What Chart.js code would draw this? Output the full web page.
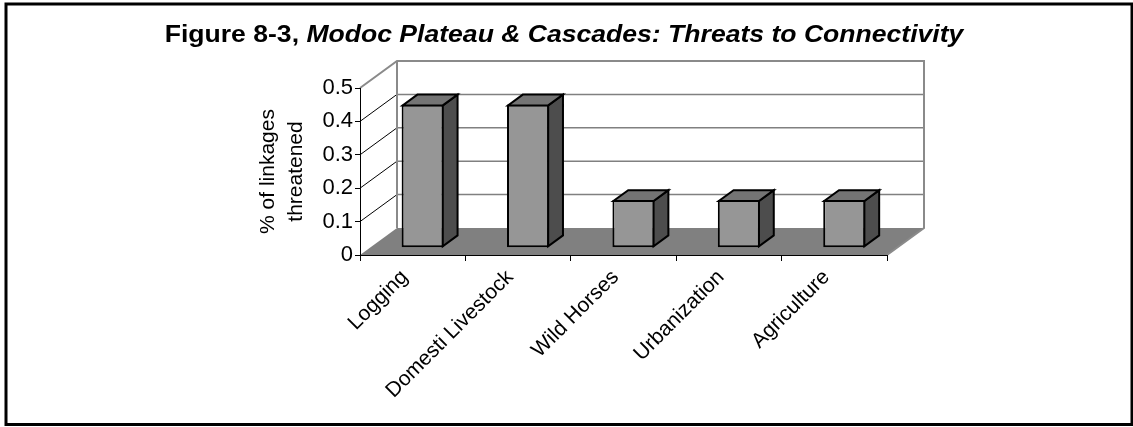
<!DOCTYPE html>
<html><head><meta charset="utf-8">
<script src="https://cdn.jsdelivr.net/npm/chart.js@4/dist/chart.umd.min.js"></script>
<style>html,body{margin:0;padding:0;background:#fff}</style>
</head><body>
<canvas id="c" width="1133" height="427"></canvas>
<script>
const categories = ['Logging', 'Domesti Livestock', 'Wild Horses', 'Urbanization', 'Agriculture'];
const threatShare = [0.429, 0.429, 0.143, 0.143, 0.143];
const yTicks = [0, 0.1, 0.2, 0.3, 0.4, 0.5];
const titlePlain = 'Figure 8-3, ';
const titleItalic = 'Modoc Plateau & Cascades: Threats to Connectivity';
const yTitle = ['% of linkages', 'threatened'];

const FONT = "'Liberation Sans', Arial, sans-serif";
const DEPTH = {x: 37, y: -27};
const BAR_FRONT = 0.27, BAR_DEPTH = 0.4;

function line(ctx, x1, y1, x2, y2) { ctx.beginPath(); ctx.moveTo(x1, y1); ctx.lineTo(x2, y2); ctx.stroke(); }

const excel3d = {
  id: 'excel3d',
  beforeDraw(chart) {
    const {ctx, chartArea: a, scales: {y}} = chart;
    ctx.save();
    ctx.fillStyle = '#fff'; ctx.fillRect(0, 0, chart.width, chart.height);
    // outer frame
    ctx.strokeStyle = '#000'; ctx.lineWidth = 3;
    ctx.strokeRect(6, 4, 1126, 420.5);
    // title (horizontally widened like the original)
    const TS = 23, SX = 1.155;
    ctx.fillStyle = '#000'; ctx.textBaseline = 'alphabetic';
    ctx.font = 'bold ' + TS + 'px ' + FONT;
    const w1 = ctx.measureText(titlePlain).width;
    ctx.font = 'italic bold ' + TS + 'px ' + FONT;
    const w2 = ctx.measureText(titleItalic).width;
    const total = (w1 + w2) * SX;
    ctx.save();
    ctx.translate(564 - total / 2, 42);
    ctx.scale(SX, 1);
    ctx.font = 'bold ' + TS + 'px ' + FONT; ctx.fillText(titlePlain, 0, 0);
    ctx.font = 'italic bold ' + TS + 'px ' + FONT; ctx.fillText(titleItalic, w1, 0);
    ctx.restore();
    // walls
    const L = a.left, R = a.right;
    const top = y.getPixelForValue(y.max), bot = y.getPixelForValue(0);
    const dx = DEPTH.x, dy = DEPTH.y;
    ctx.strokeStyle = '#808080'; ctx.lineWidth = 1.5;
    yTicks.forEach(v => {
      if (v <= 0 || v >= y.max) return;
      const p = y.getPixelForValue(v);
      line(ctx, L + dx, p + dy, R + dx, p + dy);
    });
    ctx.strokeStyle = '#000'; ctx.lineWidth = 1;
    yTicks.forEach(v => {
      if (v <= 0 || v >= y.max) return;
      const p = y.getPixelForValue(v);
      line(ctx, L, p, L + dx, p + dy);
    });
    // floor
    ctx.fillStyle = '#808080';
    ctx.beginPath();
    ctx.moveTo(L, bot); ctx.lineTo(R, bot); ctx.lineTo(R + dx, bot + dy); ctx.lineTo(L + dx, bot + dy);
    ctx.closePath(); ctx.fill();
    // wall borders
    ctx.strokeStyle = '#8a8a8a'; ctx.lineWidth = 2;
    ctx.beginPath();
    ctx.moveTo(L, top); ctx.lineTo(L + dx, top + dy); ctx.lineTo(R + dx, top + dy); ctx.lineTo(R + dx, bot + dy);
    ctx.lineTo(R, bot);
    ctx.stroke();
    line(ctx, L + dx, top + dy, L + dx, bot + dy);
    ctx.restore();
  },
  beforeDatasetsDraw(chart) {
    chart.ctx.save();
    chart.ctx.translate(DEPTH.x * BAR_FRONT, DEPTH.y * BAR_FRONT);
  },
  afterDatasetsDraw(chart) {
    const ctx = chart.ctx;
    const bx = DEPTH.x * BAR_DEPTH, by = DEPTH.y * BAR_DEPTH;
    ctx.lineWidth = 2; ctx.strokeStyle = '#000'; ctx.lineJoin = 'miter';
    chart.getDatasetMeta(0).data.forEach(el => {
      const {x, y, base, width} = el.getProps(['x', 'y', 'base', 'width'], true);
      const x0 = x - width / 2 + 1, x1 = x + width / 2 - 1, yt = y + 1, yb = base - 1;
      ctx.fillStyle = '#4d4d4d';
      ctx.beginPath();
      ctx.moveTo(x1, yt); ctx.lineTo(x1 + bx, yt + by); ctx.lineTo(x1 + bx, yb + by); ctx.lineTo(x1, yb);
      ctx.closePath(); ctx.fill(); ctx.stroke();
      ctx.fillStyle = '#747474';
      ctx.beginPath();
      ctx.moveTo(x0, yt); ctx.lineTo(x1, yt); ctx.lineTo(x1 + bx, yt + by); ctx.lineTo(x0 + bx, yt + by);
      ctx.closePath(); ctx.fill(); ctx.stroke();
    });
    ctx.restore();
  }
};

new Chart(document.getElementById('c'), {
  type: 'bar',
  data: {
    labels: categories,
    datasets: [{
      data: threatShare,
      backgroundColor: '#969696',
      borderColor: '#000',
      borderWidth: 2,
      borderSkipped: false,
      barPercentage: 0.4,
      categoryPercentage: 1
    }]
  },
  options: {
    responsive: false,
    animation: false,
    devicePixelRatio: 1,
    layout: {padding: {left: 250, right: 246, top: 88, bottom: 0}},
    plugins: {legend: {display: false}, title: {display: false}, tooltip: {enabled: false}},
    scales: {
      x: {
        grid: {drawOnChartArea: false, tickLength: 6, color: '#000', offset: true},
        border: {color: '#000', width: 1},
        ticks: {color: '#000', font: {family: FONT, size: 21}, minRotation: 45, maxRotation: 45, autoSkip: false, padding: 4, labelOffset: -8},
        afterFit(s) { s.height = 172; }
      },
      y: {
        min: 0, max: 0.5,
        grid: {drawOnChartArea: false, tickLength: 5, color: '#000'},
        border: {color: '#000', width: 1},
        ticks: {color: '#000', font: {family: FONT, size: 22}, padding: 2, callback: v => String(v)},
        afterBuildTicks(s) { s.ticks = yTicks.map(v => ({value: v})); },
        title: {display: true, text: yTitle, color: '#000', font: {family: FONT, size: 21, lineHeight: 1.35}, padding: {top: 4, bottom: 0}},
        afterFit(s) { s.width = 110; }
      }
    }
  },
  plugins: [excel3d]
});
</script>
</body></html>
